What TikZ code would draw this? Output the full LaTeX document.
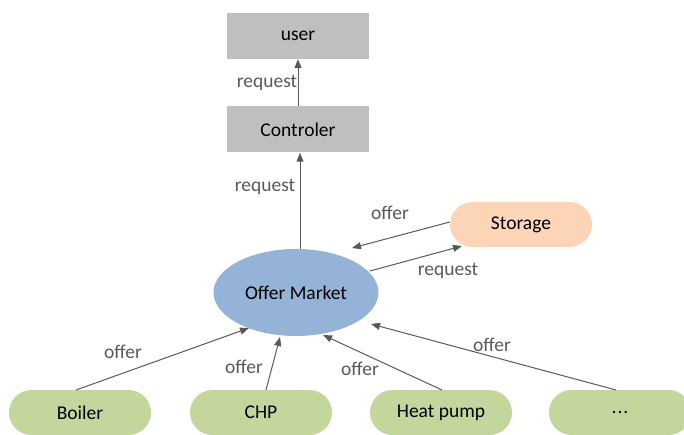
\documentclass[tikz,border=0pt]{standalone}
\usepackage{fontspec}
\setmainfont{Carlito}
\usetikzlibrary{shapes.geometric,shapes.misc,arrows.meta}
\definecolor{boxgray}{HTML}{BFBFBF}
\definecolor{peach}{HTML}{FBD5B5}
\definecolor{omblue}{HTML}{95B3D7}
\definecolor{leaf}{HTML}{C3D69B}
\definecolor{linegray}{HTML}{595959}
\begin{document}
\begin{tikzpicture}[x=1pt,y=-1pt,
  every node/.style={font=\fontsize{19.5}{22}\selectfont},
  rectbox/.style={fill=boxgray,minimum width=142pt,minimum height=46pt,inner sep=0pt},
  pill/.style={rounded rectangle,minimum width=142pt,minimum height=45pt,inner sep=0pt},
  conn/.style={draw=linegray,line width=1pt,-{Triangle[length=9pt,width=7pt]}},
  lbl/.style={text=linegray,inner sep=1pt}]
\useasboundingbox (0,0) rectangle (684,435);
\node[rectbox] (user) at (298,36) {user};
\node[rectbox] (ctrl) at (298,129.5) {Controler};
\node[ellipse,fill=omblue,minimum width=165pt,minimum height=87pt,inner sep=0pt] (om) at (296,292.5) {Offer Market};
\node[pill,fill=peach] (sto) at (521,224.5) {Storage};
\node[pill,fill=leaf] (boil) at (80,412.5) {Boiler};
\node[pill,fill=leaf] (chp) at (261,412.5) {CHP};
\node[pill,fill=leaf] (hp) at (441,412.5) {Heat pump};
\node[pill,fill=leaf] (dots) at (620,412.5) {.\kern1pt.\kern1pt.};
\coordinate (omtop) at (300,249);
\coordinate (stoin) at (352,248);
\coordinate (omr) at (370,271);
\coordinate (stoout) at (462,246);
\coordinate (b1) at (76,390);
\coordinate (b2) at (249,328);
\coordinate (c1) at (266,390);
\coordinate (c2) at (280,337);
\coordinate (h1) at (442,390);
\coordinate (h2) at (323,335);
\coordinate (d1) at (616,390);
\coordinate (d2) at (371,324);
\draw[conn] (ctrl.north) -- (user.south);
\draw[conn] (omtop) -- (ctrl.south -| omtop);
\draw[conn] (sto.west |- 0,222) -- (stoin);
\draw[conn] (omr) -- (stoout);
\draw[conn] (b1) -- (b2);
\draw[conn] (c1) -- (c2);
\draw[conn] (h1) -- (h2);
\draw[conn] (d1) -- (d2);
\node[lbl] (l1) at (267,83) {request};
\node[lbl] (l2) at (265,187) {request};
\node[lbl] (l3) at (390,213) {offer};
\node[lbl] (l4) at (448,271) {request};
\node[lbl] (l5) at (123,352) {offer};
\node[lbl] (l6) at (244,367) {offer};
\node[lbl] (l7) at (360,369) {offer};
\node[lbl] (l8) at (492,345) {offer};
\end{tikzpicture}
\end{document}
